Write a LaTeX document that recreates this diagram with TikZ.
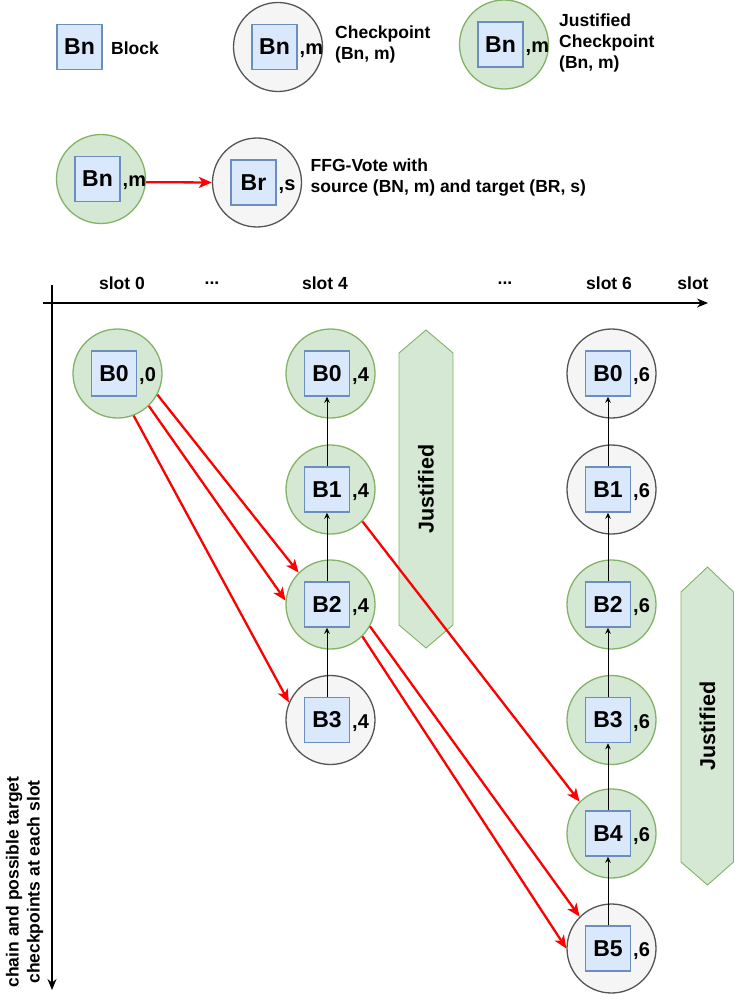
\documentclass[tikz,border=0pt]{standalone}
\usepackage{fontspec}
\setmainfont{Liberation Sans}
\usetikzlibrary{arrows.meta}
\definecolor{jfill}{HTML}{D5E8D4}
\definecolor{jdraw}{HTML}{82B366}
\definecolor{cfill}{HTML}{F5F5F5}
\definecolor{cdraw}{HTML}{555555}
\definecolor{bfill}{HTML}{DAE8FC}
\definecolor{bdraw}{HTML}{6C8EBF}
\tikzset{
 ckpt/.style={circle, minimum size=89pt, inner sep=0pt, line width=1.3pt, draw=cdraw, fill=cfill},
 jckpt/.style={ckpt, draw=jdraw, fill=jfill},
 blk/.style={rectangle, minimum size=45pt, inner sep=0pt, line width=1.5pt, draw=bdraw, fill=bfill, font=\fontsize{23}{26}\selectfont\bfseries},
 lbl/.style={inner sep=0pt, anchor=base west, font=\fontsize{20}{22}\selectfont\bfseries},
 txt/.style={inner sep=0pt, font=\fontsize{17.5}{21}\selectfont\bfseries, align=left},
 jtxt/.style={inner sep=0pt, rotate=90, font=\fontsize{21.5}{24}\selectfont\bfseries},
 vote/.style={draw=red, line width=2.3pt, -{Stealth[length=13pt,width=11pt,inset=3.5pt]}},
 chain/.style={draw=black, line width=0.9pt, -{Stealth[length=6pt,width=5.5pt]}},
 axis/.style={draw=black, line width=1.4pt, -{Stealth[length=11pt,width=9pt]}},
 hexa/.style={draw=jdraw, fill=jfill, line width=0.9pt},
}
% #1 name, #2 style, #3 x, #4 y, #5 block text, #6 label
\newcommand\ckp[6]{%
 \node[#2] (#1) at (#3,#4) {};
 \node[blk] (#1b) at (#3-3.5,#4) {#5};
 \node[lbl] (#1l) at (#3+21.5,#4+8) {,#6};
}
\begin{document}
\begin{tikzpicture}[x=1pt,y=-1pt]
\path[use as bounding box] (0,0) rectangle (734,1000);

% ---------- legend ----------
\node[blk] (lblk) at (79.5,47) {Bn};
\node[txt, anchor=west] (lblkt) at (111,48) {Block};

\ckp{lc}{ckpt}{278}{47}{Bn}{m}
\node[txt, anchor=west] (lct) at (335,44.5) {Checkpoint\\(Bn, m)};

\ckp{lj}{jckpt}{504}{44.5}{Bn}{m}
\node[txt, anchor=west] (ljt) at (559,43) {Justified\\Checkpoint\\(Bn, m)};

\ckp{fa}{jckpt}{101}{179}{Bn}{m}
\ckp{fb}{ckpt}{257}{182.5}{Br}{s}
\draw[vote] (fa.-4) -- (fb.west);
\node[txt, anchor=west] (fbt) at (310.5,177.5) {FFG-Vote with\\source (BN, m) and target (BR, s)};

% ---------- axes ----------
\coordinate (ax0) at (43,303);
\coordinate (ax1) at (708,303);
\coordinate (ay0) at (52,285);
\coordinate (ay1) at (52,990);
\draw[axis] (ax0) -- (ax1);
\draw[axis] (ay0) -- (ay1);
\node[txt] (s0) at (122,283) {slot 0};
\node[txt] (d1) at (212,283) {...};
\node[txt] (s4) at (325,283) {slot 4};
\node[txt] (d2) at (505,283) {...};
\node[txt] (s6) at (609,283) {slot 6};
\node[txt] (sl) at (693,283) {slot};
\node[txt, rotate=90, align=center] (ylab) at (24.5,882) {chain and possible target\\checkpoints at each slot};

% ---------- justified bands ----------
\path[hexa] (399,353) -- (426,330) -- (453,353) -- (453,625) -- (426,648) -- (399,625) -- cycle;
\node[jtxt] (j1) at (426,489) {Justified};
\path[hexa] (681,592) -- (707.5,567) -- (733.5,592) -- (733.5,862) -- (707.5,885) -- (681,862) -- cycle;
\node[jtxt] (j2) at (707.5,726) {Justified};

% ---------- checkpoints ----------
\ckp{c00}{jckpt}{117.5}{373.5}{B0}{0}
\ckp{c04}{jckpt}{330.5}{373.5}{B0}{4}
\ckp{c14}{jckpt}{330.5}{489.5}{B1}{4}
\ckp{c24}{jckpt}{330.5}{604.5}{B2}{4}
\ckp{c34}{ckpt}{330.5}{720}{B3}{4}
\ckp{c06}{ckpt}{611.5}{373.5}{B0}{6}
\ckp{c16}{ckpt}{611.5}{489.5}{B1}{6}
\ckp{c26}{jckpt}{611.5}{604.5}{B2}{6}
\ckp{c36}{jckpt}{611.5}{720}{B3}{6}
\ckp{c46}{jckpt}{611.5}{833.5}{B4}{6}
\ckp{c56}{ckpt}{611.5}{948.5}{B5}{6}

% ---------- chain links ----------
\draw[chain] (c14b.north) -- (c04b.south);
\draw[chain] (c24b.north) -- (c14b.south);
\draw[chain] (c34b.north) -- (c24b.south);
\draw[chain] (c16b.north) -- (c06b.south);
\draw[chain] (c26b.north) -- (c16b.south);
\draw[chain] (c36b.north) -- (c26b.south);
\draw[chain] (c46b.north) -- (c36b.south);
\draw[chain] (c56b.north) -- (c46b.south);

% ---------- FFG votes ----------
\draw[vote] (c00.-28) -- (c24.135);
\draw[vote] (c00.-46) -- (c24.175);
\draw[vote] (c00.-69) -- (c34.157);
\draw[vote] (c14.-45) -- (c46.135);
\draw[vote] (c24.-29) -- (c56.135);
\draw[vote] (c24.-45) -- (c56.180);
\end{tikzpicture}
\end{document}
